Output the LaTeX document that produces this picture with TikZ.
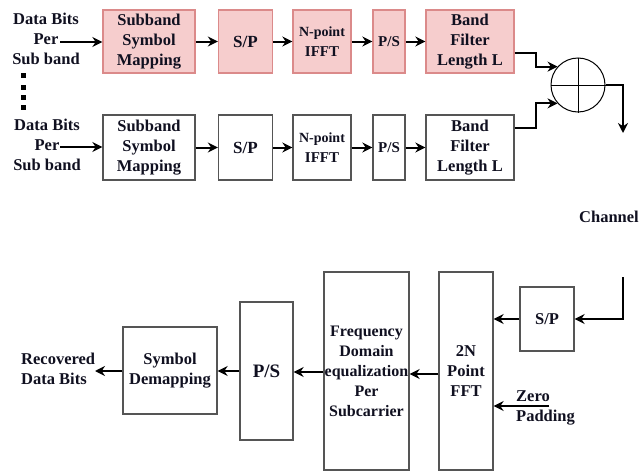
\documentclass[tikz,border=0pt]{standalone}
\usepackage{fontspec}
\setmainfont{Liberation Serif}
\usetikzlibrary{arrows.meta}
\definecolor{pinkfill}{HTML}{F6CDCD}
\definecolor{pinkdraw}{HTML}{DB8A8A}
\definecolor{boxdraw}{HTML}{555555}
\definecolor{txtcol}{HTML}{101020}
\begin{document}
\begin{tikzpicture}[x=1pt,y=-1pt,
  txt/.style={font=\bfseries\fontsize{16.5}{20}\selectfont, text=txtcol, align=center, inner sep=0pt},
  blk/.style={txt, draw=boxdraw, line width=1.3pt, fill=white},
  pblk/.style={txt, draw=pinkdraw, line width=1.3pt, fill=pinkfill},
  arr/.style={line width=2pt, -{Stealth[length=10pt,width=10pt]}},
  fs/.style={font=\bfseries\fontsize{#1}{20}\selectfont}
]
\useasboundingbox (0,0) rectangle (641,471);
% top row
\node[pblk, minimum width=92pt, minimum height=63pt] (tsm) at (149,41.5) {Subband\\Symbol\\Mapping};
\node[pblk, fs=17, minimum width=54pt, minimum height=63pt] (tsp) at (245.5,41.5) {S/P};
\node[pblk, fs=15, minimum width=58pt, minimum height=63pt] (tif) at (322,41.5) {{\fontsize{14}{20}\selectfont N-point}\\IFFT};
\node[pblk, fs=15, minimum width=32pt, minimum height=63pt] (tps) at (389,41.5) {P/S};
\node[pblk, minimum width=88pt, minimum height=63pt] (tbf) at (470,41.5) {Band\\Filter\\Length L};
% bottom row
\node[blk, minimum width=92pt, minimum height=65pt] (bsm) at (149,147.5) {Subband\\Symbol\\Mapping};
\node[blk, fs=17, minimum width=54pt, minimum height=65pt] (bsp) at (245.5,147.5) {S/P};
\node[blk, fs=15, minimum width=58pt, minimum height=65pt] (bif) at (322,147.5) {{\fontsize{14}{20}\selectfont N-point}\\IFFT};
\node[blk, fs=15, minimum width=32pt, minimum height=65pt] (bps) at (389,147.5) {P/S};
\node[blk, minimum width=88pt, minimum height=65pt] (bbf) at (470,147.5) {Band\\Filter\\Length L};
% inputs
\node[txt] (in1) at (46,39) {Data Bits\\Per\hspace*{10pt}\\Sub band};
\node[txt] (in2) at (47,145) {Data Bits\\Per\hspace*{10pt}\\Sub band};
\coordinate (s1) at (60,42);
\coordinate (s2) at (60,147);
\draw[arr] (s1) -- (s1 -| tsm.west);
\draw[arr] (s2) -- (s2 -| bsm.west);
\foreach \yy in {75,87,97,107} \fill (20.5,\yy-2.5) rectangle ++(5,5);
% row arrows
\draw[arr] (tsm) -- (tsp);
\draw[arr] (tsp) -- (tif);
\draw[arr] (tif) -- (tps);
\draw[arr] (tps) -- (tbf);
\draw[arr] (bsm) -- (bsp);
\draw[arr] (bsp) -- (bif);
\draw[arr] (bif) -- (bps);
\draw[arr] (bps) -- (bbf);
% summer
\node[circle, draw=black, line width=1pt, minimum size=54pt, inner sep=0pt, fill=white] (sum) at (578,85) {};
\draw[line width=1pt] (sum.north) -- (sum.south) (sum.west) -- (sum.east);
\draw[arr] ([yshift=-11.5pt]tbf.east) -- ++(21,0) |- (sum.138);
\draw[arr] ([yshift=19.5pt]bbf.east) -- ++(21,0) |- (sum.222);
\coordinate (c1) at (623,133);
\draw[arr] (sum.east) -| (c1);
\node[txt, anchor=west] (ch) at (579,217) {Channel};
% receiver
\node[blk, fs=16.5, minimum width=54pt, minimum height=64pt] (rsp) at (547,319) {S/P};
\coordinate (c2) at (623,277);
\draw[arr] (c2) |- (rsp.east);
\node[blk, minimum width=54pt, minimum height=198pt] (fft) at (466,371) {2N\\Point\\FFT};
\draw[arr] (rsp.west) -- (rsp.west -| fft.east);
\node[txt, align=left, anchor=west] (zp) at (516,408) {Zero\\Padding};
\coordinate (zs) at (549,406);
\draw[arr] (zs) -- (zs -| fft.east);
\node[blk, fs=16, minimum width=85pt, minimum height=198pt] (eq) at (366.5,371) {Frequency\\Domain\\equalization\\Per\\Subcarrier};
\draw[arr] ([yshift=-3pt]fft.west) -- ([yshift=-3pt]eq.east);
\node[blk, fs=19, minimum width=53pt, minimum height=138pt] (rps) at (266.5,371) {P/S};
\draw[arr] ([yshift=-1pt]eq.west) -- ([yshift=-1pt]rps.east);
\node[blk, minimum width=94pt, minimum height=87pt] (dm) at (170,370.5) {Symbol\\Demapping};
\draw[arr] (rps.west) -- (rps.west -| dm.east);
\node[txt, align=left, anchor=west] (rec) at (21,369) {Recovered\\Data Bits};
\coordinate (re) at (95,371);
\draw[arr] (dm.west |- re) -- (re);
\end{tikzpicture}
\end{document}
